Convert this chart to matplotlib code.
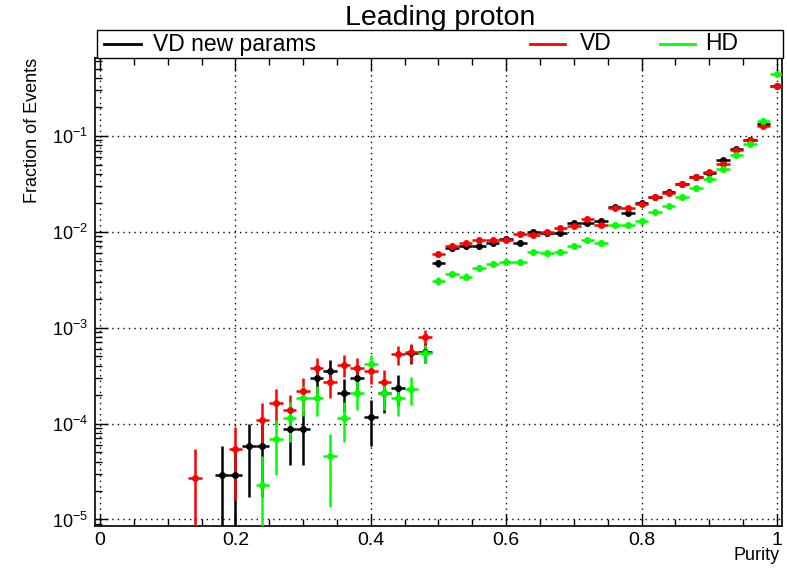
import numpy as np
import matplotlib
matplotlib.use('Agg')
import matplotlib.pyplot as plt
from matplotlib.ticker import LogLocator, MultipleLocator, NullFormatter
from matplotlib.patches import Rectangle
from matplotlib.lines import Line2D

plt.rcParams['font.family'] = ['Liberation Sans', 'DejaVu Sans']
plt.rcParams['mathtext.fontset'] = 'custom'
plt.rcParams['mathtext.rm'] = 'Liberation Sans'
plt.rcParams['mathtext.default'] = 'regular'

# ---- data (bin centres, bin width 0.02) ----
x_high = [0.50, 0.52, 0.54, 0.56, 0.58, 0.60, 0.62, 0.64, 0.66, 0.68, 0.70, 0.72, 0.74,
          0.76, 0.78, 0.80, 0.82, 0.84, 0.86, 0.88, 0.90, 0.92, 0.94, 0.96, 0.98, 1.00]

# VD new params (black)
x_vdnew_low = [0.18, 0.20, 0.22, 0.24, 0.28, 0.30, 0.32, 0.34, 0.36, 0.38, 0.40, 0.42, 0.44, 0.46, 0.48]
y_vdnew_low = [2.93e-5, 2.93e-5, 5.86e-5, 5.86e-5, 8.8e-5, 8.8e-5, 2.97e-4, 3.54e-4, 2.1e-4,
               2.97e-4, 1.18e-4, 2.06e-4, 2.37e-4, 5.4e-4, 5.55e-4]
e_vdnew_low = [2.93e-5, 2.93e-5, 4.14e-5, 4.14e-5, 5.08e-5, 5.08e-5, 9.3e-5, 1.02e-4, 7.8e-5,
               9.3e-5, 5.9e-5, 7.8e-5, 8.3e-5, 1.26e-4, 1.28e-4]
y_vdnew_high = [4.7e-3, 6.8e-3, 7.0e-3, 7.0e-3, 7.6e-3, 8.4e-3, 7.7e-3, 1.0e-2, 9.6e-3, 9.7e-3,
                1.22e-2, 1.22e-2, 1.29e-2, 1.8e-2, 1.56e-2, 1.98e-2, 2.3e-2, 2.57e-2, 3.14e-2,
                3.74e-2, 4.1e-2, 5.58e-2, 7.33e-2, 9.0e-2, 0.131, 0.33]
e_vdnew_high = [3.7e-4, 4.5e-4, 4.5e-4, 4.5e-4, 4.7e-4, 5.0e-4, 4.7e-4, 5.4e-4, 5.3e-4, 5.3e-4,
                6.0e-4, 6.0e-4, 6.1e-4, 7.3e-4, 6.8e-4, 7.6e-4, 8.2e-4, 8.7e-4, 9.6e-4,
                1.05e-3, 1.1e-3, 1.28e-3, 1.46e-3, 1.62e-3, 1.96e-3, 3.1e-3]

# VD (red)
x_vd_low = [0.14, 0.20, 0.24, 0.26, 0.28, 0.30, 0.32, 0.34, 0.36, 0.38, 0.40, 0.42, 0.44, 0.46, 0.48]
y_vd_low = [2.72e-5, 5.44e-5, 1.09e-4, 1.64e-4, 1.37e-4, 2.19e-4, 3.78e-4, 2.7e-4, 4.08e-4,
            3.83e-4, 3.54e-4, 2.74e-4, 5.29e-4, 5.55e-4, 7.94e-4]
e_vd_low = [2.72e-5, 3.85e-5, 5.44e-5, 6.66e-5, 6.1e-5, 7.7e-5, 1.01e-4, 8.6e-5, 1.05e-4,
            1.02e-4, 9.8e-5, 8.6e-5, 1.2e-4, 1.23e-4, 1.47e-4]
y_vd_high = [5.82e-3, 7.1e-3, 7.6e-3, 8.15e-3, 8.25e-3, 8.15e-3, 9.4e-3, 9.3e-3, 9.8e-3, 1.08e-2,
             1.14e-2, 1.35e-2, 1.18e-2, 1.77e-2, 1.77e-2, 1.95e-2, 2.28e-2, 2.55e-2, 3.14e-2,
             3.74e-2, 4.22e-2, 5.03e-2, 7.1e-2, 9.0e-2, 0.127, 0.332]
e_vd_high = [4.0e-4, 4.4e-4, 4.5e-4, 4.7e-4, 4.7e-4, 4.7e-4, 5.1e-4, 5.0e-4, 5.2e-4, 5.4e-4,
             5.6e-4, 6.1e-4, 5.7e-4, 6.9e-4, 6.9e-4, 7.3e-4, 7.9e-4, 8.3e-4, 9.2e-4,
             1.0e-3, 1.07e-3, 1.17e-3, 1.39e-3, 1.56e-3, 1.86e-3, 3.0e-3]

# HD (green)
x_hd_low = [0.24, 0.26, 0.28, 0.30, 0.32, 0.34, 0.36, 0.38, 0.40, 0.42, 0.44, 0.46, 0.48]
y_hd_low = [2.3e-5, 6.93e-5, 1.15e-4, 1.84e-4, 1.84e-4, 4.61e-5, 1.15e-4, 2.07e-4, 4.15e-4,
            2.07e-4, 1.84e-4, 2.3e-4, 5.4e-4]
e_hd_low = [2.3e-5, 4.0e-5, 5.1e-5, 6.5e-5, 6.5e-5, 3.26e-5, 5.1e-5, 6.9e-5, 9.8e-5,
            6.9e-5, 6.5e-5, 7.3e-5, 1.11e-4]
y_hd_high = [3.08e-3, 3.62e-3, 3.4e-3, 4.22e-3, 4.6e-3, 4.8e-3, 4.8e-3, 6.1e-3, 6.0e-3, 6.2e-3,
             7.1e-3, 8.2e-3, 7.7e-3, 1.18e-2, 1.17e-2, 1.3e-2, 1.6e-2, 1.85e-2, 2.32e-2,
             2.87e-2, 3.56e-2, 4.46e-2, 6.3e-2, 8.2e-2, 0.143, 0.44]
e_hd_high = [2.7e-4, 2.9e-4, 2.8e-4, 3.1e-4, 3.3e-4, 3.3e-4, 3.3e-4, 3.7e-4, 3.7e-4, 3.8e-4,
             4.0e-4, 4.3e-4, 4.2e-4, 5.2e-4, 5.2e-4, 5.5e-4, 6.1e-4, 6.5e-4, 7.3e-4,
             8.1e-4, 9.1e-4, 1.01e-3, 1.2e-3, 1.37e-3, 1.81e-3, 3.2e-3]

bin_half = 0.01

series = [
    ('VD new params', 'black', x_vdnew_low + x_high, y_vdnew_low + y_vdnew_high, e_vdnew_low + e_vdnew_high),
    ('VD', '#ff0000', x_vd_low + x_high, y_vd_low + y_vd_high, e_vd_low + e_vd_high),
    ('HD', '#00ff00', x_hd_low + x_high, y_hd_low + y_hd_high, e_hd_low + e_hd_high),
]

W, H = 787, 572
fig = plt.figure(figsize=(W / 100, H / 100), dpi=100)
ax = fig.add_axes([95 / W, 46 / H, 687 / W, 468 / H])
ax.set_yscale('log')

for label, col, xs, ys, es in series:
    ax.errorbar(xs, ys, yerr=es, xerr=bin_half, fmt='o', color=col, ms=5,
                elinewidth=1.8, capsize=0, mew=0, zorder=3)

ax.set_xlim(-0.0074, 1.0074)
ax.set_ylim(8.55e-6, 0.645)

ax.xaxis.set_major_locator(MultipleLocator(0.2))
ax.xaxis.set_minor_locator(MultipleLocator(0.05))
ax.xaxis.set_major_formatter(matplotlib.ticker.FuncFormatter(lambda v, p: '%g' % round(v, 2)))
ax.yaxis.set_major_locator(LogLocator(base=10, numticks=20))
ax.yaxis.set_minor_locator(LogLocator(base=10, subs=np.arange(2, 10), numticks=20))
ax.yaxis.set_minor_formatter(NullFormatter())

ax.tick_params(which='both', direction='in', top=True, right=False)
ax.tick_params(which='major', length=9, width=1)
ax.tick_params(which='minor', length=5, width=1)
ax.tick_params(axis='x', labelsize=14, pad=4)
ax.tick_params(axis='y', labelsize=13, pad=5)

ax.grid(True, which='major', color='black', linestyle=(0, (1, 3)), linewidth=1)
for s in ax.spines.values():
    s.set_linewidth(1.2)

ax.set_xlabel('Purity', fontsize=13, loc='right')
ax.xaxis.set_label_coords(0.997, -0.045)
ax.set_ylabel('Fraction of Events', fontsize=13, loc='top')
ax.yaxis.set_label_coords(-0.079, 1.0)

fig.text(440 / W, 1 - 18 / H, 'Leading proton', ha='center', va='center', fontsize=20.5)

# legend box across the top of the frame
fig.add_artist(Rectangle((97 / W, 1 - 58 / H), 686 / W, 28 / H, transform=fig.transFigure,
                         facecolor='white', edgecolor='black', linewidth=1, zorder=5))
leg_pos = [(104, 141, 153), (530, 565, 580), (660, 695, 705)]
ly = 1 - 44 / H
for (label, col, _, _, _), (l0, l1, tx) in zip(series, leg_pos):
    fig.add_artist(Line2D([l0 / W, l1 / W], [ly, ly], transform=fig.transFigure,
                          color=col, linewidth=2, zorder=6))
    fig.text(tx / W, ly, label, ha='left', va='center', fontsize=16.5, zorder=6)

fig.savefig('out.png', dpi=100)
